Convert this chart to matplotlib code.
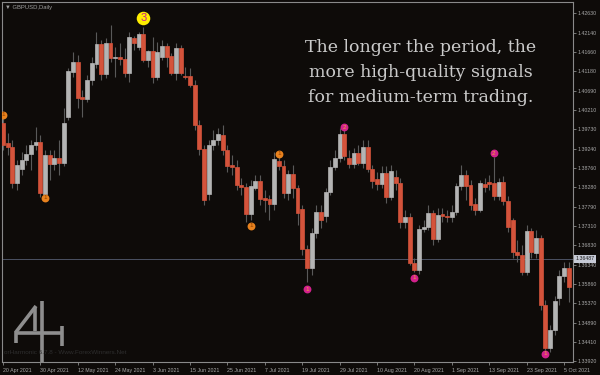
import matplotlib
matplotlib.use("Agg")
import matplotlib.pyplot as plt
from matplotlib.lines import Line2D
import numpy as np
import pandas as pd

# GBPUSD daily bars, 20 Apr 2021 .. 6 Oct 2021 (weekdays)
dates = pd.bdate_range("2021-04-20", "2021-10-06")

opens = [1.3988, 1.3938, 1.3928, 1.3838, 1.3873, 1.3895, 1.3911, 1.3933, 1.3941, 1.3810,
         1.3908, 1.3886, 1.3900, 1.3888, 1.4003, 1.4116, 1.4141, 1.4053, 1.4048, 1.4096,
         1.4136, 1.4186, 1.4111, 1.4188, 1.4151, 1.4153, 1.4148, 1.4113, 1.4201, 1.4178,
         1.4211, 1.4146, 1.4168, 1.4103, 1.4153, 1.4181, 1.4156, 1.4113, 1.4176, 1.4106,
         1.4106, 1.4083, 1.3983, 1.3923, 1.3810, 1.3933, 1.3946, 1.3958, 1.3921, 1.3883,
         1.3878, 1.3833, 1.3828, 1.3761, 1.3826, 1.3843, 1.3801, 1.3798, 1.3786, 1.3893,
         1.3881, 1.3813, 1.3861, 1.3826, 1.3773, 1.3673, 1.3626, 1.3713, 1.3766, 1.3756,
         1.3816, 1.3878, 1.3900, 1.3961, 1.3900, 1.3886, 1.3913, 1.3888, 1.3928, 1.3873,
         1.3848, 1.3836, 1.3863, 1.3803, 1.3853, 1.3838, 1.3741, 1.3753, 1.3638, 1.3621,
         1.3723, 1.3728, 1.3763, 1.3698, 1.3761, 1.3756, 1.3753, 1.3766, 1.3831, 1.3858,
         1.3833, 1.3786, 1.3771, 1.3836, 1.3841, 1.3838, 1.3806, 1.3841, 1.3793, 1.3746,
         1.3666, 1.3658, 1.3616, 1.3718, 1.3663, 1.3701, 1.3533, 1.3426, 1.3471, 1.3551,
         1.3606, 1.3626]
highs = [1.4013, 1.3963, 1.3946, 1.3896, 1.3916, 1.3933, 1.3946, 1.3978, 1.3958, 1.3921,
         1.3921, 1.3921, 1.3946, 1.4026, 1.4126, 1.4166, 1.4158, 1.4071, 1.4108, 1.4153,
         1.4216, 1.4196, 1.4201, 1.4233, 1.4178, 1.4188, 1.4176, 1.4216, 1.4206, 1.4216,
         1.4228, 1.4171, 1.4203, 1.4191, 1.4196, 1.4188, 1.4163, 1.4188, 1.4183, 1.4128,
         1.4126, 1.4096, 1.3996, 1.3933, 1.3946, 1.3971, 1.3976, 1.3983, 1.3933, 1.3908,
         1.3896, 1.3851, 1.3838, 1.3846, 1.3858, 1.3858, 1.3821, 1.3808, 1.3916, 1.3906,
         1.3896, 1.3871, 1.3883, 1.3833, 1.3783, 1.3683, 1.3726, 1.3783, 1.3783, 1.3826,
         1.3896, 1.3921, 1.3976, 1.3971, 1.3921, 1.3926, 1.3933, 1.3946, 1.3946, 1.3883,
         1.3866, 1.3881, 1.3881, 1.3883, 1.3871, 1.3851, 1.3771, 1.3763, 1.3651, 1.3733,
         1.3746, 1.3783, 1.3771, 1.3776, 1.3776, 1.3771, 1.3783, 1.3838, 1.3883, 1.3871,
         1.3846, 1.3801, 1.3846, 1.3851, 1.3858, 1.3903, 1.3851, 1.3856, 1.3806, 1.3751,
         1.3696, 1.3683, 1.3733, 1.3726, 1.3721, 1.3708, 1.3546, 1.3483, 1.3556, 1.3621,
         1.3641, 1.3641]
lows = [1.3921, 1.3908, 1.3826, 1.3821, 1.3858, 1.3883, 1.3871, 1.3921, 1.3803, 1.3801,
        1.3846, 1.3871, 1.3858, 1.3881, 1.3996, 1.4103, 1.4026, 1.4003, 1.4041, 1.4083,
        1.4126, 1.4096, 1.4101, 1.4141, 1.4103, 1.4133, 1.4103, 1.4091, 1.4171, 1.4171,
        1.4141, 1.4128, 1.4088, 1.4096, 1.4146, 1.4128, 1.4108, 1.4096, 1.4108, 1.4098,
        1.4078, 1.3971, 1.3908, 1.3783, 1.3796, 1.3921, 1.3933, 1.3908, 1.3866, 1.3858,
        1.3821, 1.3808, 1.3741, 1.3746, 1.3821, 1.3783, 1.3766, 1.3746, 1.3771, 1.3871,
        1.3801, 1.3796, 1.3801, 1.3733, 1.3658, 1.3591, 1.3608, 1.3701, 1.3726, 1.3741,
        1.3808, 1.3871, 1.3891, 1.3896, 1.3876, 1.3876, 1.3883, 1.3876, 1.3866, 1.3826,
        1.3821, 1.3826, 1.3788, 1.3796, 1.3821, 1.3726, 1.3726, 1.3633, 1.3616, 1.3611,
        1.3716, 1.3721, 1.3683, 1.3691, 1.3741, 1.3741, 1.3741, 1.3758, 1.3821, 1.3796,
        1.3771, 1.3758, 1.3766, 1.3816, 1.3821, 1.3796, 1.3796, 1.3783, 1.3716, 1.3651,
        1.3641, 1.3608, 1.3608, 1.3651, 1.3651, 1.3521, 1.3421, 1.3416, 1.3458, 1.3533,
        1.3591, 1.3541]
closes = [1.3933, 1.3928, 1.3838, 1.3883, 1.3895, 1.3911, 1.3933, 1.3941, 1.3813, 1.3908,
          1.3886, 1.3900, 1.3888, 1.3988, 1.4118, 1.4141, 1.4051, 1.4048, 1.4096, 1.4138,
          1.4186, 1.4111, 1.4188, 1.4151, 1.4153, 1.4148, 1.4113, 1.4203, 1.4188, 1.4211,
          1.4146, 1.4168, 1.4103, 1.4166, 1.4181, 1.4153, 1.4113, 1.4176, 1.4113, 1.4104,
          1.4083, 1.3983, 1.3923, 1.3796, 1.3933, 1.3946, 1.3961, 1.3921, 1.3881, 1.3878,
          1.3833, 1.3828, 1.3761, 1.3831, 1.3843, 1.3798, 1.3796, 1.3786, 1.3898, 1.3881,
          1.3813, 1.3861, 1.3826, 1.3763, 1.3673, 1.3626, 1.3713, 1.3766, 1.3746, 1.3816,
          1.3878, 1.3900, 1.3961, 1.3906, 1.3886, 1.3913, 1.3888, 1.3928, 1.3873, 1.3843,
          1.3836, 1.3863, 1.3803, 1.3868, 1.3838, 1.3741, 1.3753, 1.3638, 1.3621, 1.3723,
          1.3728, 1.3763, 1.3698, 1.3758, 1.3756, 1.3753, 1.3766, 1.3831, 1.3858, 1.3831,
          1.3783, 1.3771, 1.3838, 1.3828, 1.3836, 1.3806, 1.3841, 1.3793, 1.3728, 1.3666,
          1.3658, 1.3616, 1.3718, 1.3666, 1.3701, 1.3533, 1.3426, 1.3471, 1.3543, 1.3606,
          1.3626, 1.3578]

# zigzag/harmonic point markers: bar index, price, label, colour
mark_idx = [0, 9, 30, 53, 59, 65, 73, 88, 105, 116]
mark_price = [1.4008, 1.3801, 1.4251, 1.3731, 1.3911, 1.3573, 1.3978, 1.3601, 1.3913, 1.3411]
mark_text = ["1", "1", "3", "1", "1", "1", "2", "1", "2", "1"]
mark_kind = ["o", "o", "y", "o", "o", "m", "m", "m", "m", "m"]

price_ticks = [1.42630, 1.42140, 1.41660, 1.41180, 1.40690, 1.40210, 1.39730, 1.39240,
               1.38760, 1.38280, 1.37790, 1.37310, 1.36830, 1.36340, 1.35860, 1.35370,
               1.34890, 1.34410, 1.33920]
date_ticks = ["20 Apr 2021", "30 Apr 2021", "12 May 2021", "24 May 2021", "3 Jun 2021",
              "15 Jun 2021", "25 Jun 2021", "7 Jul 2021", "19 Jul 2021", "29 Jul 2021",
              "10 Aug 2021", "20 Aug 2021", "1 Sep 2021", "13 Sep 2021", "23 Sep 2021",
              "5 Oct 2021"]
last_price = 1.36487

bg = "#0e0b09"
up_col = "#b4b4b4"
dn_col = "#d4533b"
wick_col = "#595959"
frame_col = "#8a8a8a"
lab_col = "#a8a8a8"
small_font = ["Liberation Sans", "DejaVu Sans"]

o = np.array(opens)
c = np.array(closes)
x = np.arange(len(o))

fig = plt.figure(figsize=(6, 3.75), dpi=100, facecolor=bg)
ax = fig.add_axes([2 / 600, 13 / 375, 571 / 600, 360 / 375], facecolor=bg)

ax.axhline(last_price, color="#4b5263", lw=0.7, zorder=1)
ax.vlines(x, lows, highs, color=wick_col, lw=0.8, zorder=2)
cols = [up_col if cc >= oo else dn_col for oo, cc in zip(o, c)]
ax.bar(x, np.abs(c - o), bottom=np.minimum(o, c), width=0.84, color=cols,
       edgecolor=cols, linewidth=0.5, zorder=3)

fill = {"o": "#e8821e", "m": "#d2218c", "y": "#ffee00"}
txtc = {"o": "#8c3c00", "m": "#f2a23a", "y": "#c8208c"}
for i, p, t, k in zip(mark_idx, mark_price, mark_text, mark_kind):
    big = k == "y"
    ax.scatter([i], [p], s=95 if big else 32, color=fill[k], zorder=5, linewidths=0)
    ax.text(i, p, t, color=txtc[k], fontsize=8 if big else 4.5, ha="center",
            va="center", zorder=6, family=small_font)

ax.set_xlim(-0.21, 121.92)
ax.set_ylim(1.33905, 1.42905)

for s in ax.spines.values():
    s.set_color(frame_col)
    s.set_linewidth(0.8)

ax.yaxis.tick_right()
ax.set_yticks(price_ticks)
ax.set_yticklabels([f"{v:.5f}" for v in price_ticks])
ax.tick_params(axis="y", colors=frame_col, length=2, width=0.6, pad=1.5,
               labelsize=3.8, labelcolor=lab_col)

tick_pos = [dates.get_loc(pd.Timestamp(d)) for d in pd.to_datetime(date_ticks, format="%d %b %Y")]
ax.set_xticks(tick_pos)
ax.set_xticklabels(date_ticks, ha="left")
ax.tick_params(axis="x", colors=frame_col, length=2.5, width=0.6, pad=1.5,
               labelsize=3.8, labelcolor=lab_col)
for lab in ax.get_xticklabels() + ax.get_yticklabels():
    lab.set_family(small_font)

# current price tag
ax.text(1.004, last_price, f"{last_price:.5f}", transform=ax.get_yaxis_transform(),
        fontsize=3.8, color="#1a1a1a", va="center", ha="left", family=small_font,
        bbox=dict(boxstyle="square,pad=0.25", fc="#c6cad6", ec="none"), zorder=10)

fig.text(5 / 600, 1 - 7 / 375, "\u25bc GBPUSD,Daily", fontsize=4.2, color="#a0a0a0",
         va="center", ha="left", family=small_font)

lines = ["The longer the period, the", "more high-quality signals", "for medium-term trading."]
for k, line in enumerate(lines):
    fig.text(421 / 600, 1 - (52 + 25 * k) / 375, line, fontsize=12.5, color="#cacaca",
             ha="center", va="baseline", family="DejaVu Serif")

# watermark
fig.text(4 / 600, 1 - 352 / 375, "orHarmonic 6.7.8 - Www.ForexWinners.Net", fontsize=4.6,
         color="#2e2e2e", va="center", ha="left", family=small_font)
logo = [[(16, 343), (16, 331)], [(16, 332), (36, 306)], [(35, 307), (35, 331)],
        [(42, 301), (42, 362)], [(16, 333), (63, 333)], [(62, 326), (62, 346)]]
for seg in logo:
    xs = [p[0] / 600 for p in seg]
    ys = [1 - p[1] / 375 for p in seg]
    fig.add_artist(Line2D(xs, ys, color="#8e8e8e", lw=2.6, solid_capstyle="butt"))

fig.savefig("out.png", dpi=100, facecolor=bg)
